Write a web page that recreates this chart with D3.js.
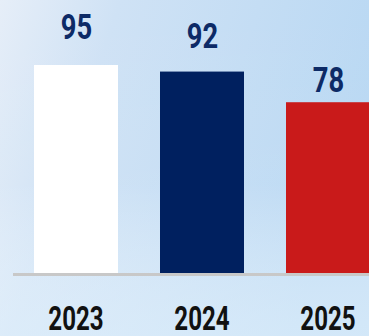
<!DOCTYPE html>
<html>
<head>
<meta charset="utf-8">
<script src="https://cdn.jsdelivr.net/npm/d3@7"></script>
<style>
  html, body { margin: 0; padding: 0; overflow: hidden; }
  body { width: 369px; height: 336px; }
</style>
</head>
<body>
<svg id="chart" width="369" height="336"></svg>
<script>
const categories = ["2023", "2024", "2025"];
const values = [95, 92, 78];
const barColors = ["#ffffff", "#00205f", "#c91a1a"];

const W = 369, H = 336;
const svg = d3.select("#chart");
const FONT = "Roboto, 'DejaVu Sans', sans-serif";

// background
const defs = svg.append("defs");
const lg = defs.append("linearGradient").attr("id", "bg").attr("x1", 0).attr("y1", 0).attr("x2", 1).attr("y2", 0.3);
lg.append("stop").attr("offset", "0%").attr("stop-color", "#e6eef8");
lg.append("stop").attr("offset", "30%").attr("stop-color", "#cfe2f5");
lg.append("stop").attr("offset", "100%").attr("stop-color", "#b9d8f3");
const vg = defs.append("linearGradient").attr("id", "bgv").attr("x1", 0).attr("y1", 0).attr("x2", 0).attr("y2", 1);
vg.append("stop").attr("offset", "0%").attr("stop-color", "#ffffff").attr("stop-opacity", 0);
vg.append("stop").attr("offset", "55%").attr("stop-color", "#ffffff").attr("stop-opacity", 0.05);
vg.append("stop").attr("offset", "100%").attr("stop-color", "#e4f2fc").attr("stop-opacity", 0.6);
svg.append("rect").attr("width", W).attr("height", H).attr("fill", "url(#bg)");
svg.append("rect").attr("width", W).attr("height", H).attr("fill", "url(#bgv)");

const baseY = 273;
const x = d3.scaleBand().domain(categories).range([13, 391]).paddingInner(1/3).paddingOuter(1/6);
const y = d3.scaleLinear().domain([0, 95]).range([baseY, 65]);
// value labels follow their own placement scale
const labelY = d3.scaleLinear().domain([78, 95]).range([92, 39]);

const data = categories.map((c, i) => ({ c, v: values[i], color: barColors[i] }));

svg.selectAll("rect.bar").data(data).join("rect")
  .attr("class", "bar")
  .attr("x", d => x(d.c))
  .attr("y", d => y(d.v))
  .attr("width", x.bandwidth())
  .attr("height", d => y(0) - y(d.v))
  .attr("fill", d => d.color);

// axis baseline
const axis = d3.axisBottom(x).tickSize(0).tickPadding(0);
const gx = svg.append("g").attr("transform", `translate(0,${baseY})`).call(axis);
gx.select(".domain").attr("stroke", "#c8c8c8").attr("stroke-width", 3).attr("d", `M13,1.5H${W}`);
gx.selectAll(".tick text")
  .attr("y", 0)
  .attr("dy", 0)
  .attr("transform", "translate(0,57) scale(0.73,1)")
  .attr("font-family", FONT)
  .attr("font-weight", 700)
  .attr("font-size", 33)
  .attr("fill", "#111111")
  .attr("text-anchor", "middle");

svg.selectAll("text.val").data(data).join("text")
  .attr("class", "val")
  .attr("transform", d => `translate(${x(d.c) + x.bandwidth() / 2 + 0.5},${labelY(d.v)}) scale(0.76,1)`)
  .attr("text-anchor", "middle")
  .attr("font-family", FONT)
  .attr("font-weight", 700)
  .attr("font-size", 36)
  .attr("fill", "#0d2a66")
  .text(d => d.v);
</script>
</body>
</html>
